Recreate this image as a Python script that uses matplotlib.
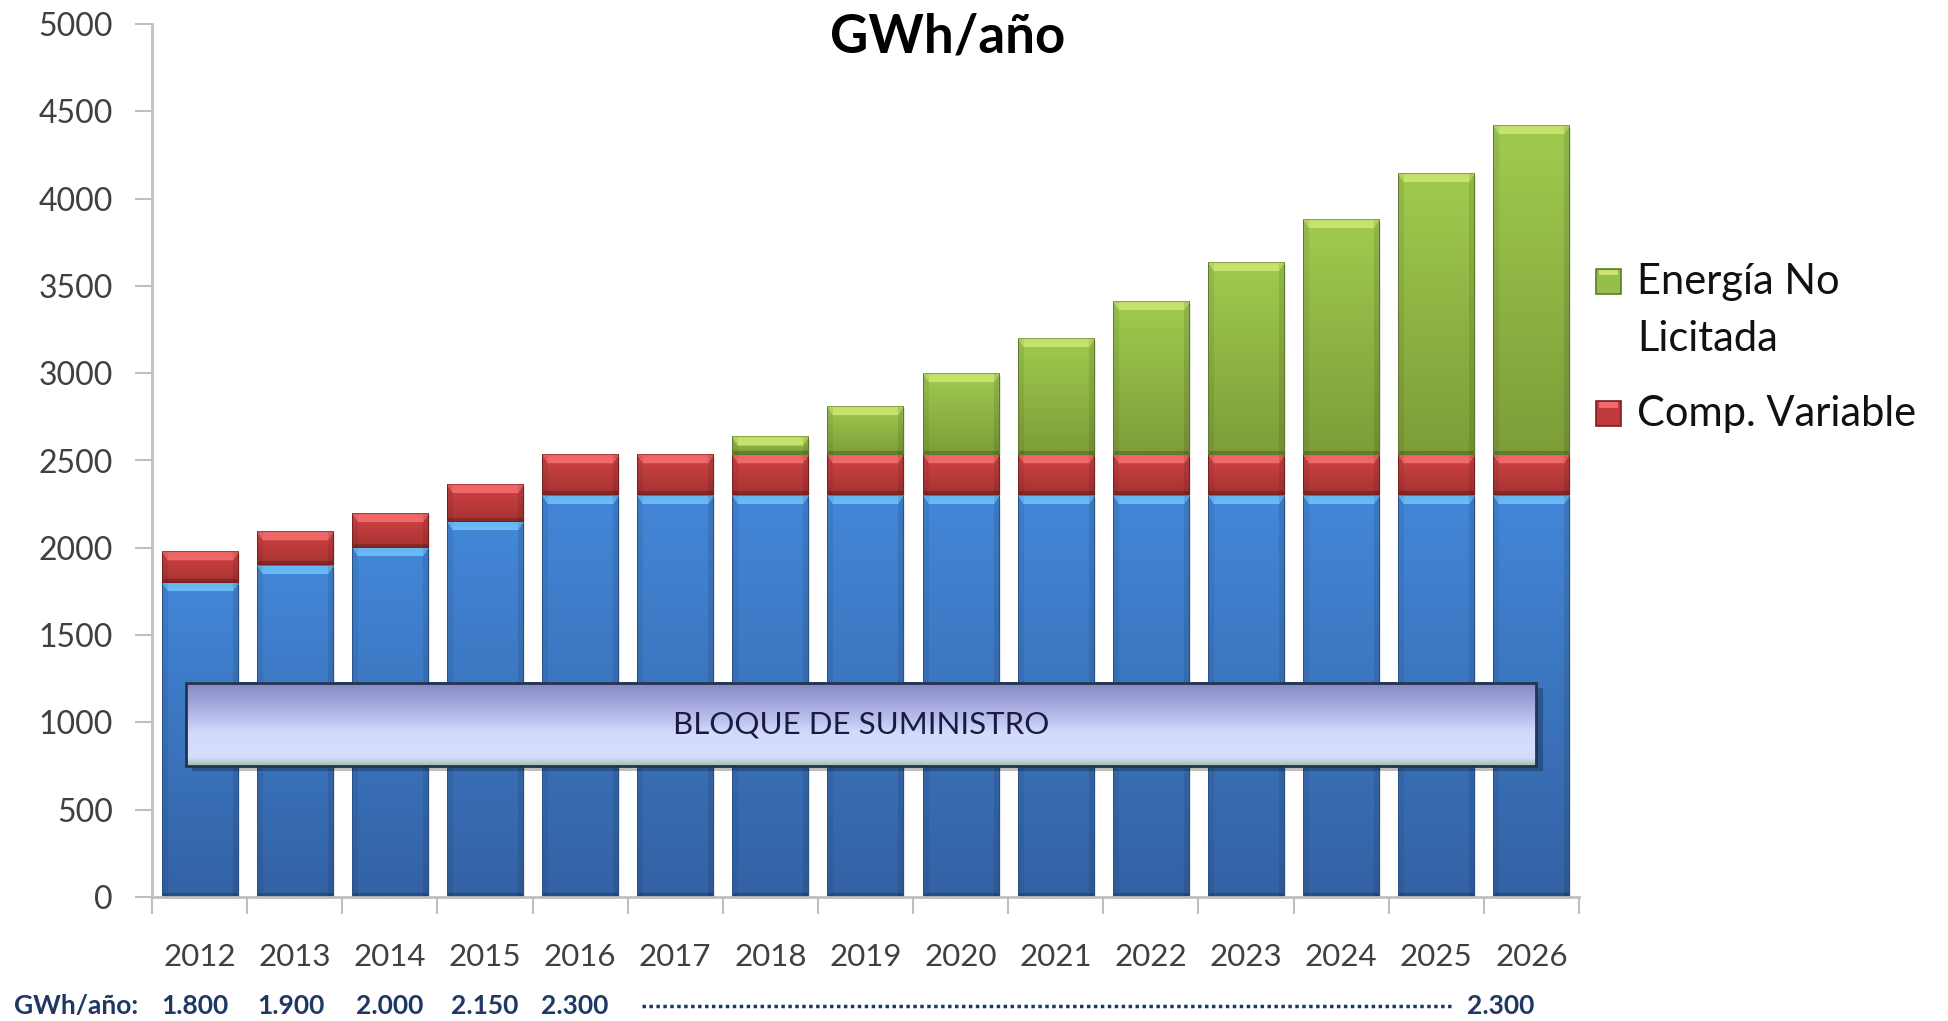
import numpy as np
import matplotlib
matplotlib.use('Agg')
import matplotlib.pyplot as plt
from matplotlib.patches import Rectangle
from matplotlib.colors import to_rgb
import matplotlib.transforms as mtransforms

# ---------------- data ----------------
years = ['2012', '2013', '2014', '2015', '2016', '2017', '2018', '2019',
         '2020', '2021', '2022', '2023', '2024', '2025', '2026']
bloque_suministro = [1800, 1900, 2000, 2150, 2300, 2300, 2300, 2300,
                     2300, 2300, 2300, 2300, 2300, 2300, 2300]
comp_variable = [180, 190, 200, 215, 230, 230, 230, 230,
                 230, 230, 230, 230, 230, 230, 230]
energia_no_licitada = [0, 0, 0, 0, 0, 0, 105, 280,
                       465, 670, 880, 1105, 1350, 1615, 1890]
yticks = [0, 500, 1000, 1500, 2000, 2500, 3000, 3500, 4000, 4500, 5000]
bottom_row_label = 'GWh/año:'
bottom_row_values = ['1.800', '1.900', '2.000', '2.150', '2.300']
bottom_row_last = '2.300'
title_text = 'GWh/año'
box_text = 'BLOQUE DE SUMINISTRO'
legend_lines = [['Energía No', 'Licitada'], ['Comp. Variable']]

plt.rcParams['font.family'] = ['Lato', 'DejaVu Sans']

W_PX, H_PX = 1948, 1021
fig = plt.figure(figsize=(W_PX / 100, H_PX / 100), dpi=100)
ax = fig.add_axes([152 / W_PX, 1 - 897 / H_PX, (1579 - 152) / W_PX, (897 - 24) / H_PX])

x = np.arange(len(years))
b_blo = np.array(bloque_suministro, float)
b_cv = np.array(comp_variable, float)
b_en = np.array(energia_no_licitada, float)

BAR_W = 0.8
bars_blue = ax.bar(x, b_blo, width=BAR_W, color='#3d7cc9', edgecolor='#2a4f80', lw=1.0, zorder=2)
bars_red = ax.bar(x, b_cv, bottom=b_blo, width=BAR_W, color='#c0393b', edgecolor='#7a2020', lw=1.0, zorder=2)
bars_green = ax.bar(x, b_en, bottom=b_blo + b_cv, width=BAR_W, color='#94bf4a', edgecolor='#5f7a2c', lw=1.0, zorder=2)

ax.set_xlim(-0.5, len(years) - 0.5)
ax.set_ylim(0, 5000)


def shade(container, top, bot, hi, edge):
    top, bot, hi, edge = map(lambda c: np.array(to_rgb(c)), (top, bot, hi, edge))
    for p in container.patches:
        x0, y0 = p.get_x(), p.get_y()
        w, h = p.get_width(), p.get_height()
        if h <= 0:
            p.set_visible(False)
            continue
        (px0, py0) = ax.transData.transform((x0, y0))
        (px1, py1) = ax.transData.transform((x0 + w, y0 + h))
        Wp = max(int(round(px1 - px0)), 4)
        Hp = max(int(round(py1 - py0)), 4)
        yy = np.linspace(0, 1, Hp)[:, None, None]
        img = top * (1 - yy) + bot * yy
        img = np.repeat(img, Wp, axis=1)
        bev = 9
        side = 6
        cols = np.arange(Wp)
        for r in range(min(bev, Hp)):
            inset = int(round(r * side / bev))
            mask = (cols >= inset) & (cols < Wp - inset)
            img[r, mask] = hi * (0.85 + 0.15 * r / bev) + top * (0.15 - 0.15 * r / bev)
        img[:, :side] *= 0.93
        img[:, Wp - side:] *= 0.90
        nb = min(4, Hp)
        img[Hp - nb:, :] *= 0.8
        img[:, 0] = edge
        img[:, -1] = edge
        img[0, :] = edge * 0.6 + hi * 0.4
        img[-1, :] = edge
        ax.imshow(np.clip(img, 0, 1), extent=[x0, x0 + w, y0, y0 + h], origin='upper',
                  aspect='auto', interpolation='bilinear', zorder=2.1)
        p.set_facecolor('none')
        p.set_edgecolor('none')
        sh = Rectangle((x0 + 0.02, y0), w, h - 15, facecolor='#000000', alpha=0.10,
                       edgecolor='none', zorder=1.5)
        ax.add_patch(sh)


shade(bars_blue, '#4387d8', '#3362a4', '#6cbcf5', '#2a5088')
shade(bars_red, '#d04444', '#a83232', '#f26a6a', '#7a2020')
shade(bars_green, '#a0cb4f', '#7d9d38', '#c8e46e', '#5f7a2c')

ax.set_xlim(-0.5, len(years) - 0.5)
ax.set_ylim(0, 5000)

# ---------------- BLOQUE DE SUMINISTRO box ----------------
bx0, bx1, by0, by1 = -0.146, 14.05, 750, 1226
shadow = Rectangle((bx0 + 0.07, by0 - 30), bx1 - bx0, by1 - by0, facecolor='#000000',
                   alpha=0.25, edgecolor='none', zorder=3.8)
ax.add_patch(shadow)
stops = np.array([0.0, 0.45, 0.6, 0.9, 1.0])
cols_ = np.array([to_rgb('#8585c4'), to_rgb('#bcc2ee'), to_rgb('#d3dbfc'),
                  to_rgb('#d5ddfd'), to_rgb('#a2bda8')])
t = np.linspace(0, 1, 200)
grad = np.stack([np.interp(t, stops, cols_[:, k]) for k in range(3)], axis=1)[:, None, :]
ax.imshow(grad, extent=[bx0, bx1, by0, by1], origin='upper', aspect='auto',
          interpolation='bilinear', zorder=4)
ax.add_patch(Rectangle((bx0, by0), bx1 - bx0, by1 - by0, facecolor='none',
                       edgecolor='#1f3550', lw=2, zorder=4.2))
ax.text((bx0 + bx1) / 2, (by0 + by1) / 2, box_text, ha='center', va='center',
        fontsize=22.5, color='#1b1b40', zorder=5)

ax.set_xlim(-0.5, len(years) - 0.5)
ax.set_ylim(0, 5000)

# ---------------- axes styling ----------------
for s in ['top', 'right']:
    ax.spines[s].set_visible(False)
for s in ['left', 'bottom']:
    ax.spines[s].set_color('#bfbfbf')
    ax.spines[s].set_linewidth(2)
ax.set_yticks(yticks)
ax.set_yticklabels([str(v) for v in yticks])
ax.tick_params(axis='y', length=12, width=1.5, color='#bfbfbf', pad=16,
               labelsize=23, labelcolor='#404040')
ax.set_xticks(np.arange(-0.5, len(years), 1.0))
ax.set_xticklabels([])
ax.tick_params(axis='x', which='major', length=12, width=1.5, color='#bfbfbf')
ax.set_xticks(x, minor=True)
ax.set_xticklabels(years, minor=True)
ax.tick_params(axis='x', which='minor', length=0, pad=33, labelsize=22.5, labelcolor='#404040')

# ---------------- title ----------------
fig.text(948 / W_PX, 1 - 37 / H_PX, title_text, ha='center', va='center',
         fontsize=38, fontweight='bold', color='#000000')

# ---------------- legend (drawn manually) ----------------
legend_colors = [('#94bf4a', '#5f7a2c', '#c8e46e'), ('#c0393b', '#7a2020', '#f26a6a')]
entry_y = [282, 414]
line_gap = 57
MK = 25
for (fc, ec, hc), yc, lines in zip(legend_colors, entry_y, legend_lines):
    fig.patches.append(Rectangle((1596 / W_PX, 1 - (yc + MK / 2) / H_PX), MK / W_PX, MK / H_PX,
                                 facecolor=fc, edgecolor=ec, lw=1.2,
                                 transform=fig.transFigure, figure=fig))
    fig.patches.append(Rectangle((1599 / W_PX, 1 - (yc - MK / 2 + 6) / H_PX), (MK - 6) / W_PX, 5 / H_PX,
                                 facecolor=hc, edgecolor='none',
                                 transform=fig.transFigure, figure=fig))
    for i, line in enumerate(lines):
        fig.text(1637 / W_PX, 1 - (yc + i * line_gap) / H_PX, line, ha='left', va='center',
                 fontsize=30, color='#111111')

# ---------------- bottom row ----------------
ROW_Y = 1 - 1006 / H_PX
row_tr = mtransforms.blended_transform_factory(ax.transData, fig.transFigure)
NAVY = '#1f3864'
fig.text(14 / W_PX, ROW_Y, bottom_row_label, ha='left', va='center', fontsize=19,
         fontweight='bold', color=NAVY)
row_pos = [-0.05, 0.96, 2.0, 3.0, 3.94]
for pos, val in zip(row_pos, bottom_row_values):
    ax.text(pos, ROW_Y, val, transform=row_tr, ha='center', va='center', fontsize=19,
            fontweight='bold', color=NAVY, clip_on=False)
ax.plot([4.65, 13.18], [ROW_Y, ROW_Y], transform=row_tr, ls=(0, (1, 1)), lw=2.5,
        color=NAVY, clip_on=False)
ax.text(13.68, ROW_Y, bottom_row_last, transform=row_tr, ha='center', va='center',
        fontsize=19, fontweight='bold', color=NAVY, clip_on=False)

fig.savefig('out.png', dpi=100)
